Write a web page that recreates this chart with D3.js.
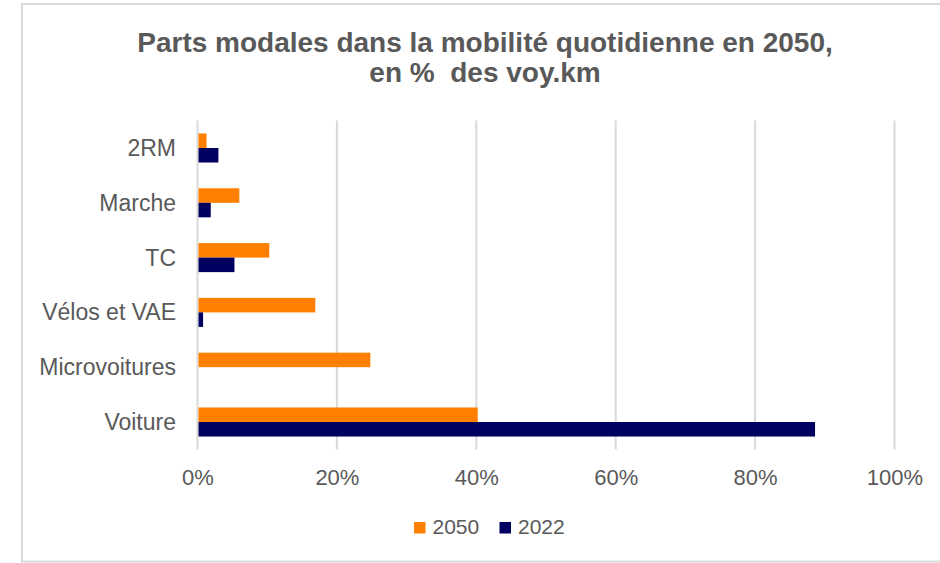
<!DOCTYPE html>
<html>
<head>
<meta charset="utf-8">
<script src="https://cdnjs.cloudflare.com/ajax/libs/d3/7.8.5/d3.min.js"></script>
<style>
  body { margin: 0; background: #fff; }
  text { font-family: "Liberation Sans", Arial, sans-serif; fill: #595959; }
</style>
</head>
<body>
<div id="chart"></div>
<script>
// data
const categories = ['2RM', 'Marche', 'TC', 'Vélos et VAE', 'Microvoitures', 'Voiture'];
const values2050 = [1.3, 6.0, 10.3, 16.9, 24.8, 40.2];
const values2022 = [3.0, 1.9, 5.3, 0.8, 0, 88.6];
const seriesNames = ['2050', '2022'];
const xTicks = [0, 20, 40, 60, 80, 100];

const W = 940, H = 563;
const margin = { top: 120.6, left: 197.5, right: 45.5, bottom: 113.6 };
const w = W - margin.left - margin.right;
const h = H - margin.top - margin.bottom;

const color = d3.scaleOrdinal().domain(seriesNames).range(['#FF8000', '#000060']);

const svg = d3.select('#chart').append('svg')
  .attr('width', W)
  .attr('height', H);

// outer frame
svg.append('rect')
  .attr('x', 22).attr('y', 4)
  .attr('width', W + 10).attr('height', 557.5)
  .attr('fill', 'none')
  .attr('stroke', '#d9d9d9')
  .attr('stroke-width', 2);

// title
const title = svg.append('text')
  .attr('text-anchor', 'middle')
  .style('font-weight', 'bold')
  .style('font-size', '28px')
  .style('white-space', 'pre');
title.append('tspan').attr('x', 485).attr('y', 52).text('Parts modales dans la mobilité quotidienne en 2050,');
title.append('tspan').attr('x', 485).attr('y', 82).text('en %  des voy.km');

const g = svg.append('g')
  .attr('transform', `translate(${margin.left}, ${margin.top})`);

// scales
const xScale = d3.scaleLinear().domain([0, 100]).range([0, w]);
const yScale = d3.scaleBand().domain(categories).range([0, h])
  .paddingInner(0.47).paddingOuter(0.235);
const ySub = d3.scaleBand().domain(seriesNames).range([0, yScale.bandwidth()]);

// gridlines
g.selectAll('.grid')
  .data(xTicks)
  .enter()
  .append('line')
  .attr('x1', d => xScale(d)).attr('x2', d => xScale(d))
  .attr('y1', 0).attr('y2', h)
  .attr('stroke', '#d9d9d9')
  .attr('stroke-width', 2);

// x-axis labels
const xAxis = d3.axisBottom(xScale).tickValues(xTicks)
  .tickFormat(d => d + '%').tickSize(0);
g.append('g')
  .attr('transform', `translate(0, ${h})`)
  .call(xAxis)
  .call(s => s.select('.domain').remove())
  .selectAll('text')
  .attr('y', 35.6)
  .attr('dy', 0)
  .style('font-size', '22px')
  .style('font-family', '"Liberation Sans", Arial, sans-serif')
  .attr('fill', '#595959');

// y-axis labels
const yAxis = d3.axisLeft(yScale).tickSize(0).tickPadding(21.5);
g.append('g')
  .call(yAxis)
  .call(s => s.select('.domain').remove())
  .selectAll('text')
  .attr('dy', '0.35em')
  .style('font-size', '23px')
  .style('font-family', '"Liberation Sans", Arial, sans-serif')
  .attr('fill', '#595959');

// bars
const rows = categories.map((c, i) => ({ cat: c, vals: [
  { s: '2050', v: values2050[i] },
  { s: '2022', v: values2022[i] }
] }));

const groups = g.selectAll('.cat')
  .data(rows)
  .enter()
  .append('g')
  .attr('transform', d => `translate(0, ${yScale(d.cat)})`);

groups.selectAll('rect')
  .data(d => d.vals)
  .enter()
  .append('rect')
  .attr('x', xScale(0) + 1)
  .attr('y', d => ySub(d.s))
  .attr('width', d => Math.max(0, xScale(d.v) - xScale(0) - 1))
  .attr('height', ySub.bandwidth())
  .attr('fill', d => color(d.s));

// legend
const legendX = [414, 499.5];
const legend = svg.selectAll('.legend')
  .data(seriesNames)
  .enter()
  .append('g')
  .attr('transform', (d, i) => `translate(${legendX[i]}, 522)`);

legend.append('rect')
  .attr('width', 11.5).attr('height', 11.5)
  .attr('fill', d => color(d));

legend.append('text')
  .attr('x', 18.5).attr('y', 12)
  .style('font-size', '21px')
  .text(d => d);
</script>
</body>
</html>
